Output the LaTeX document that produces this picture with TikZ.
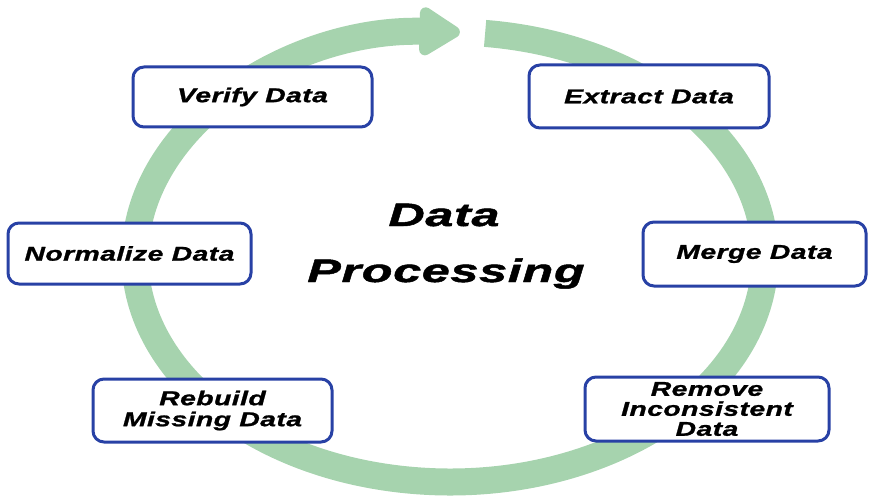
\documentclass[tikz,border=0pt]{standalone}
\usepackage{fontspec}
\usetikzlibrary{arrows.meta}

\newfontfamily\labelfont[FakeStretch=1.42,LetterSpace=2,FakeBold=1.2]{Liberation Sans}
\newfontfamily\titlefont[FakeStretch=1.55,LetterSpace=2,FakeBold=1.5]{Liberation Sans}

\definecolor{ringgreen}{RGB}{166,211,174}
\definecolor{boxblue}{RGB}{40,65,165}

\tikzset{
    taskbox/.style={draw=boxblue,line width=3pt,rounded corners=11pt,fill=white,
        align=center,inner sep=0pt,
        font=\labelfont\bfseries\itshape\fontsize{20}{21}\selectfont},
    titletext/.style={anchor=base,inner sep=0pt,
        font=\titlefont\bfseries\itshape\fontsize{32.5}{34}\selectfont}
}

\begin{document}
\begin{tikzpicture}[x=1pt,y=1pt]
                \useasboundingbox (0,0) rectangle (877,-497);
                \coordinate (RingCenter) at (450,-257);

                % green cycle arrow behind the boxes
                \draw[ringgreen,line width=27pt,-{Triangle[width=54pt,length=46pt,round]}]
                    (RingCenter) ++(83.6:315 and 225)
                    arc[start angle=83.6,end angle=-271.8,x radius=315,y radius=225];

                \node[taskbox,minimum width=239,minimum height=60] (VerifyBox) at (252.5,-97) {Verify Data};
                \node[taskbox,minimum width=240,minimum height=63] (ExtractBox) at (649,-96.5) {Extract Data};
                \node[taskbox,minimum width=243,minimum height=61] (NormalizeBox) at (129.5,-253.5) {Normalize Data};
                \node[taskbox,minimum width=223,minimum height=64] (MergeBox) at (754.5,-254) {Merge Data};
                \node[taskbox,minimum width=239,minimum height=63] (RebuildBox) at (212.5,-410.5) {Rebuild\\Missing Data};
                \node[taskbox,minimum width=244,minimum height=64,
                    font=\labelfont\bfseries\itshape\fontsize{20}{20}\selectfont] (RemoveBox) at (707,-409) {Remove\\Inconsistent\\Data};

                \node[titletext] (TitleTop) at (444,-226) {Data};
                \node[titletext] (TitleBottom) at (446,-282) {Processing};
            \end{tikzpicture}
\end{document}
